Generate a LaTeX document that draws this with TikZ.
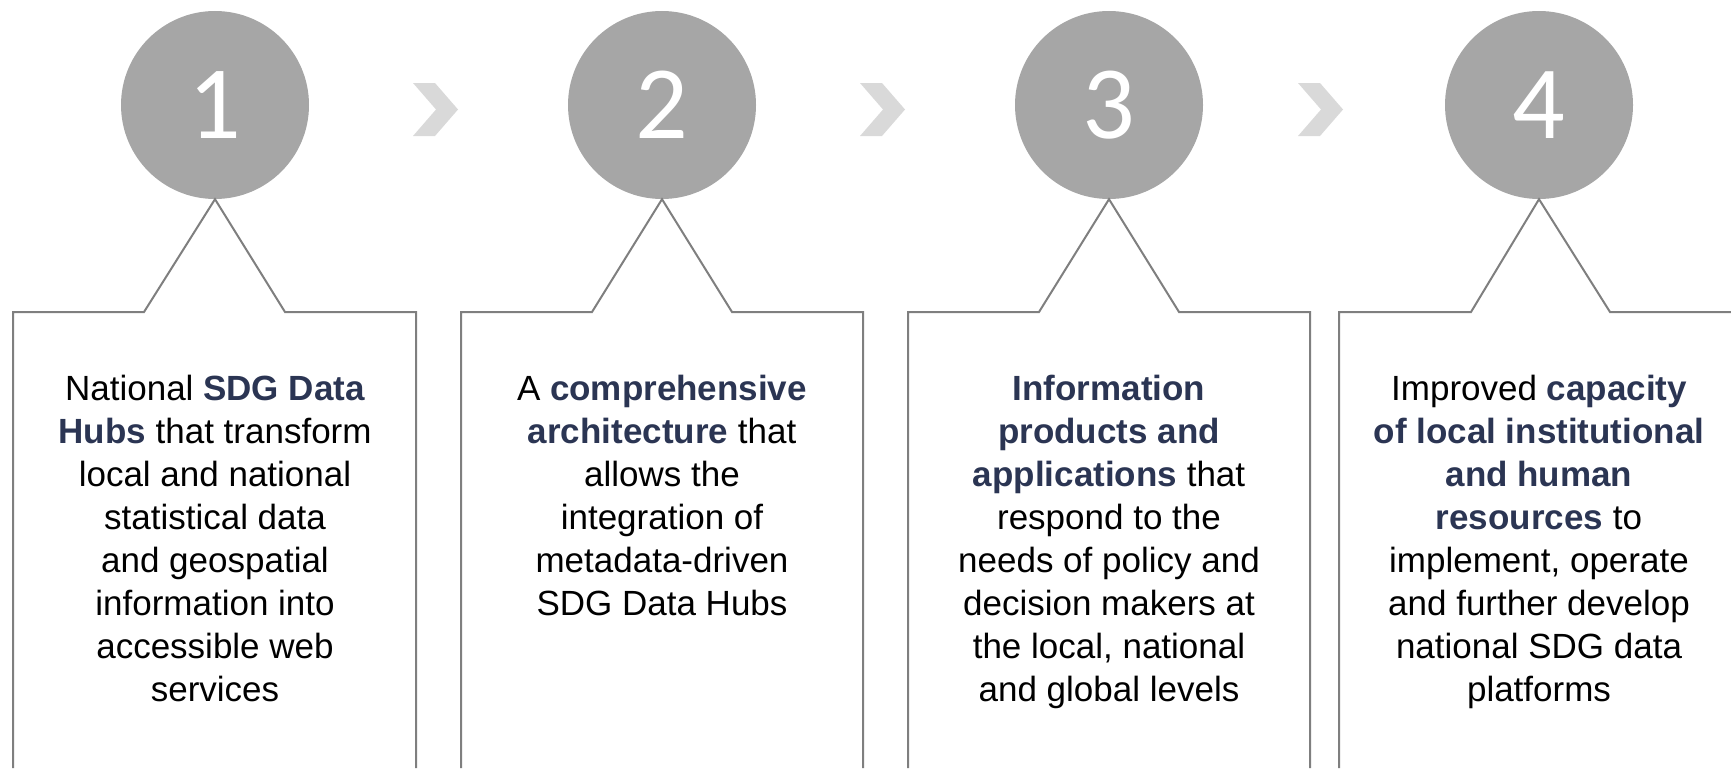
\documentclass[tikz,border=0pt]{standalone}
\usepackage{fontspec}
\setmainfont{Liberation Sans}
\newfontfamily\numfont{Carlito}
\usetikzlibrary{positioning}

\definecolor{circlegray}{HTML}{A6A6A6}
\definecolor{chevrongray}{HTML}{D9D9D9}
\definecolor{linegray}{HTML}{7F7F7F}
\definecolor{hubnavy}{HTML}{2B3553}

\tikzset{
  stepcircle/.style={circle,fill=circlegray,minimum size=188pt,inner sep=0pt,
    text=white,font=\numfont\fontsize{104}{104}\selectfont},
  stepframe/.style={draw=linegray,line width=2pt},
  steptext/.style={inner sep=0pt,align=center,font=\fontsize{35}{43}\selectfont},
  chevron/.style={fill=chevrongray},
}
\newcommand{\hl}[1]{\textcolor{hubnavy}{\textbf{#1}}}

\begin{document}
\begin{tikzpicture}[x=1pt,y=-1pt]
 \useasboundingbox (0,0) rectangle (1731,768);
 % circles
 \node[stepcircle] (c1) at (215,105) {1};
 \node[stepcircle] (c2) at (662,105) {2};
 \node[stepcircle] (c3) at (1109,105) {3};
 \node[stepcircle] (c4) at (1539,105) {4};
 % chevrons
 \fill[chevron] (413,83)--++(22,0)--++(23,26.5)--++(-23,26.5)--++(-22,0)--++(23,-26.5)--cycle;
 \fill[chevron] (860,83)--++(22,0)--++(23,26.5)--++(-23,26.5)--++(-22,0)--++(23,-26.5)--cycle;
 \fill[chevron] (1298,83)--++(22,0)--++(23,26.5)--++(-23,26.5)--++(-22,0)--++(23,-26.5)--cycle;
 % frames
 \draw[stepframe] (13,768) |- (144,312) -- (c1.south) -- (285,312) -| (416,768);
 \draw[stepframe] (461,768) |- (592,312) -- (c2.south) -- (732,312) -| (863,768);
 \draw[stepframe] (908,768) |- (1039,312) -- (c3.south) -- (1179,312) -| (1310,768);
 \draw[stepframe] (1339,768) |- (1471,312) -- (c4.south) -- (1610,312) -- (1731,312);
 % texts
 \node[steptext,below=176pt of c1] (t1) {National \hl{SDG Data}\\\hl{Hubs} that transform\\local and national\\statistical data\\and geospatial\\information into\\accessible web\\services};
 \node[steptext,below=176pt of c2] (t2) {A \hl{comprehensive}\\\hl{architecture} that\\allows the\\integration of\\metadata-driven\\SDG Data Hubs};
 \node[steptext,below=176pt of c3] (t3) {\hl{Information}\\\hl{products and}\\\hl{applications} that\\respond to the\\needs of policy and\\decision makers at\\the local, national\\and global levels};
 \node[steptext,below=176pt of c4] (t4) {Improved \hl{capacity}\\\hl{of local institutional}\\\hl{and human}\\\hl{resources} to\\implement, operate\\and further develop\\national SDG data\\platforms};
\end{tikzpicture}
\end{document}
